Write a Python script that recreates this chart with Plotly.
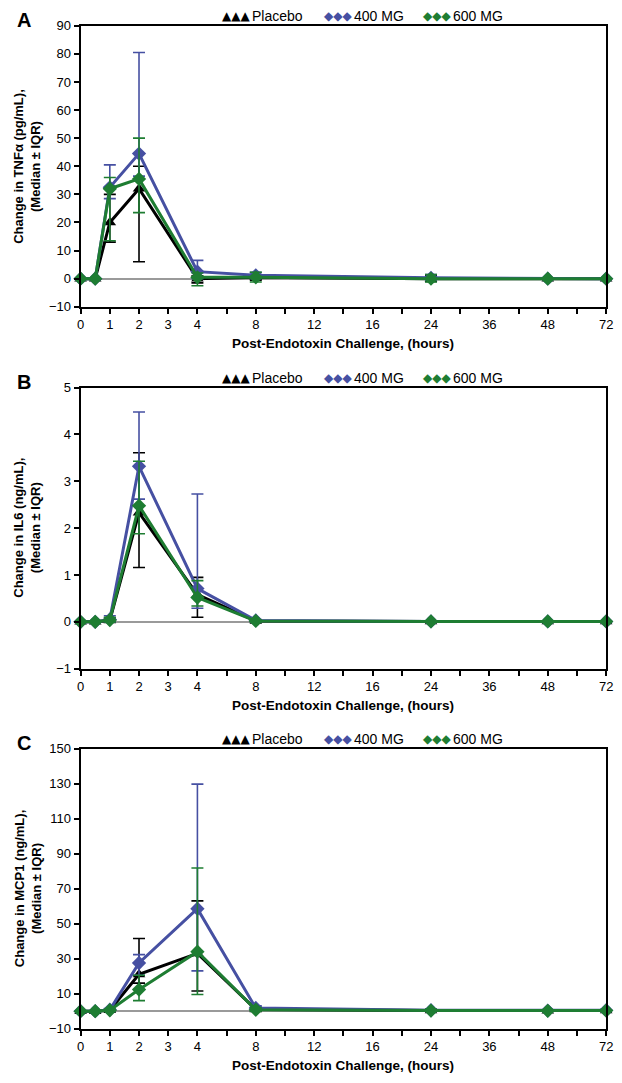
import numpy as np
import plotly.graph_objects as go

W, H = 622, 1083

# ---------------- data ----------------
hours = [0, 0.5, 1, 2, 4, 8, 24, 48, 72]
# x-axis tick hours (axis is evenly spaced per tick)
tick_hours = [0, 1, 2, 3, 4, 6, 8, 10, 12, 14, 16, 20, 24, 30, 36, 42, 48, 60, 72]
tick_text = ["0", "1", "2", "3", "4", "", "8", "", "12", "", "16", "", "24", "", "36", "", "48", "", "72"]

groups = ["Placebo", "400 MG", "600 MG"]

# Panel A: TNFa (pg/mL)
tnf_placebo = [0, 0, 20, 32, 0, 0.5, 0, 0, 0]
tnf_placebo_q1 = [0, 0, 13, 6, -1.5, -0.5, -1, 0, 0]
tnf_placebo_q3 = [0, 0, 30, 40, 1, 1.5, 1, 0, 0]
tnf_400 = [0, 0, 32.5, 44.5, 2.5, 1.2, 0.3, 0, 0]
tnf_400_q1 = [0, 0, 28.5, 36.5, 0, 0, -0.5, 0, 0]
tnf_400_q3 = [0, 0, 40.5, 80.5, 6.5, 2.3, 1.5, 0, 0]
tnf_600 = [0, 0, 32, 35.5, 0.5, 0.5, 0, 0, 0]
tnf_600_q1 = [0, 0, 13.5, 23.5, -2.5, -1.2, -1.2, 0, 0]
tnf_600_q3 = [0, 0, 36, 50, 2, 2.3, 1.5, 0, 0]

# Panel B: IL6 (ng/mL)
il6_placebo = [0, 0, 0.03, 2.33, 0.58, 0.02, 0.01, 0.01, 0.01]
il6_placebo_q1 = [0, 0, 0, 1.16, 0.1, 0, 0, 0, 0]
il6_placebo_q3 = [0, 0, 0.08, 3.61, 0.95, 0.04, 0.02, 0.02, 0.02]
il6_400 = [0, 0, 0.05, 3.32, 0.71, 0.03, 0.01, 0.01, 0.01]
il6_400_q1 = [0, 0, 0, 2.62, 0.29, 0, 0, 0, 0]
il6_400_q3 = [0, 0, 0.13, 4.48, 2.73, 0.05, 0.02, 0.02, 0.02]
il6_600 = [0, 0, 0.04, 2.48, 0.52, 0.02, 0.01, 0.01, 0.01]
il6_600_q1 = [0, 0, 0, 1.88, 0.34, 0, 0, 0, 0]
il6_600_q3 = [0, 0, 0.1, 3.43, 0.88, 0.04, 0.02, 0.02, 0.02]

# Panel C: MCP1 (ng/mL)
mcp_placebo = [0, 0, 0.5, 21, 33, 1, 0.3, 0.2, 0.3]
mcp_placebo_q1 = [0, 0, 0, 16, 11.5, 0, 0, 0, 0]
mcp_placebo_q3 = [0, 0, 1, 41.5, 63, 2, 1, 0.5, 0.5]
mcp_400 = [0, 0, 0.8, 27.5, 58.5, 1.8, 0.5, 0.3, 0.5]
mcp_400_q1 = [0, 0, 0, 20.5, 23, 0.5, 0, 0, 0]
mcp_400_q3 = [0, 0, 1.5, 32.3, 129.7, 3, 1, 0.5, 1]
mcp_600 = [0, 0, 0.5, 12.3, 34, 0.8, 0.3, 0.2, 0.3]
mcp_600_q1 = [0, 0, 0, 6, 9.5, 0, 0, 0, 0]
mcp_600_q3 = [0, 0, 1, 20.5, 81.8, 2, 1, 0.5, 0.5]

panel_letters = ["A", "B", "C"]
y_titles = ["Change in TNFα (pg/mL),<br>(Median ± IQR)",
            "Change in IL6 (ng/mL),<br>(Median ± IQR)",
            "Change in MCP1 (ng/mL),<br>(Median ± IQR)"]
x_title = "Post-Endotoxin Challenge, (hours)"
y_ranges = [[-10, 90], [-1, 5], [-10, 150]]
y_ticks = [list(range(-10, 91, 10)), list(range(-1, 6)), list(range(-10, 151, 20))]

panels = [
    [(tnf_placebo, tnf_placebo_q1, tnf_placebo_q3), (tnf_400, tnf_400_q1, tnf_400_q3), (tnf_600, tnf_600_q1, tnf_600_q3)],
    [(il6_placebo, il6_placebo_q1, il6_placebo_q3), (il6_400, il6_400_q1, il6_400_q3), (il6_600, il6_600_q1, il6_600_q3)],
    [(mcp_placebo, mcp_placebo_q1, mcp_placebo_q3), (mcp_400, mcp_400_q1, mcp_400_q3), (mcp_600, mcp_600_q1, mcp_600_q3)],
]

# ---------------- style ----------------
colors = ["#000000", "#4650A2", "#1E7D32"]
symbols = ["triangle-up", "diamond", "diamond"]
FONT = "Liberation Sans, Arial, sans-serif"

# pixel layout
plot_left, plot_right = 78, 613
tops = [19, 386, 752]
bottoms = [304, 671, 1036]

def py(v):
    return 1 - v / H

def px(v):
    return v / W

# axis transform: hours -> evenly spaced tick index
tick_pos = list(range(len(tick_hours)))
xpos = np.interp(hours, tick_hours, tick_pos)

fig = go.Figure()
annotations = []
layout = {}

for p in range(3):
    sfx = "" if p == 0 else str(p + 1)
    xa, ya = "x" + sfx, "y" + sfx
    for g in range(3):
        med, q1, q3 = panels[p][g]
        med = np.array(med, float)
        plus = np.clip(np.array(q3, float) - med, 0, None)
        minus = np.clip(med - np.array(q1, float), 0, None)
        fig.add_trace(go.Scatter(
            x=xpos, y=med, xaxis=xa, yaxis=ya, mode="lines+markers",
            name=groups[g], showlegend=False, cliponaxis=False,
            line=dict(color=colors[g], width=3),
            marker=dict(symbol=symbols[g], size=11, color=colors[g]),
            error_y=dict(type="data", array=plus, arrayminus=minus, symmetric=False,
                         color=colors[g], thickness=1.6, width=6),
        ))
    layout["xaxis" + sfx] = dict(
        domain=[px(plot_left), px(plot_right)], anchor=ya, range=[0, 18],
        tickmode="array", tickvals=tick_pos, ticktext=tick_text,
        ticks="outside", ticklen=5, tickwidth=2, tickcolor="black",
        showline=True, linecolor="black", linewidth=2, mirror=True,
        showgrid=False, zeroline=False,
        tickfont=dict(family=FONT, size=13, color="black"),
    )
    layout["yaxis" + sfx] = dict(
        domain=[py(bottoms[p]), py(tops[p])], anchor=xa, range=y_ranges[p],
        tickmode="array", tickvals=y_ticks[p],
        ticks="outside", ticklen=5, tickwidth=2, tickcolor="black",
        showline=True, linecolor="black", linewidth=2, mirror=True,
        showgrid=False, zeroline=True, zerolinecolor="#9a9a9a", zerolinewidth=1.5,
        tickfont=dict(family=FONT, size=13, color="black"),
    )
    # axis titles
    annotations.append(dict(
        text="<b>" + x_title + "</b>", xref="paper", yref="paper",
        x=px((plot_left + plot_right) / 2), y=py(bottoms[p] + 37),
        showarrow=False, xanchor="center", yanchor="middle",
        font=dict(family=FONT, size=13.5, color="black")))
    annotations.append(dict(
        text="<b>" + y_titles[p] + "</b>", xref="paper", yref="paper",
        x=px(24), y=py((tops[p] + bottoms[p]) / 2), textangle=-90,
        showarrow=False, xanchor="center", yanchor="middle",
        font=dict(family=FONT, size=13, color="black")))
    # panel letter
    annotations.append(dict(
        text="<b>" + panel_letters[p] + "</b>", xref="paper", yref="paper",
        x=px(20), y=py(tops[p] - 6), showarrow=False, xanchor="center", yanchor="middle",
        font=dict(family=FONT, size=20, color="black")))
    # legend (drawn as text)
    ly = py(tops[p] - 10)
    glyphs = ["▲▲▲", "◆◆◆", "◆◆◆"]
    gx = [220, 324, 424]
    tx = [250, 354, 455]
    for g in range(3):
        annotations.append(dict(
            text=glyphs[g], xref="paper", yref="paper", x=px(gx[g]), y=ly,
            showarrow=False, xanchor="left", yanchor="middle",
            font=dict(family="DejaVu Sans", size=12, color=colors[g])))
        annotations.append(dict(
            text=groups[g], xref="paper", yref="paper", x=px(tx[g]), y=ly,
            showarrow=False, xanchor="left", yanchor="middle",
            font=dict(family=FONT, size=14, color="black")))

fig.update_layout(
    width=W, height=H, margin=dict(l=0, r=0, t=0, b=0),
    paper_bgcolor="white", plot_bgcolor="white",
    annotations=annotations, showlegend=False, **layout,
)
fig.write_html("out.html", config={"displayModeBar": False},
               post_script="document.body.style.margin='0';")
